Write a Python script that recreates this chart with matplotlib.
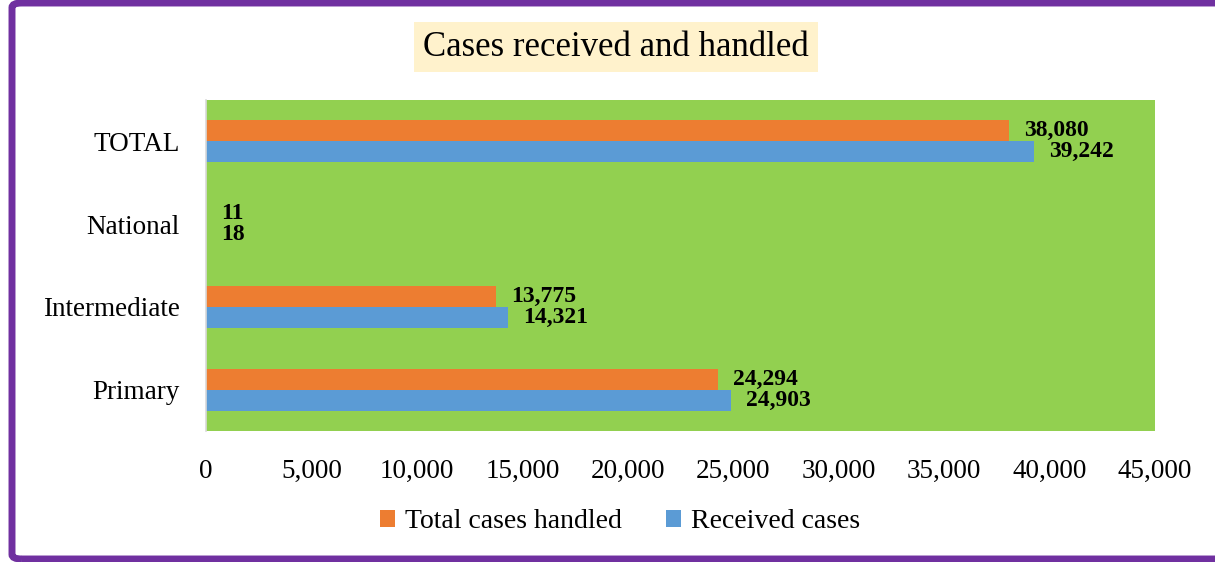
import matplotlib
matplotlib.use("Agg")
import matplotlib.pyplot as plt
from matplotlib.patches import FancyBboxPatch
from matplotlib.ticker import FuncFormatter
import numpy as np

categories = ["Primary", "Intermediate", "National", "TOTAL"]
handled = [24294, 13775, 11, 38080]
received = [24903, 14321, 18, 39242]
series_names = ["Total cases handled", "Received cases"]
xticks = [0, 5000, 10000, 15000, 20000, 25000, 30000, 35000, 40000, 45000]

FONT = "Liberation Serif"
plt.rcParams["font.family"] = [FONT, "DejaVu Serif"]

W, H = 1215, 562
fig = plt.figure(figsize=(W / 100, H / 100), dpi=100)
fig.patch.set_facecolor("white")

# purple border
border = FancyBboxPatch((12 / W, 3 / H), (W + 40) / W, (H - 6) / H,
                        boxstyle="round,pad=0,rounding_size=0.008",
                        transform=fig.transFigure, fill=False,
                        edgecolor="#7030A0", linewidth=5, clip_on=False)
fig.patches.append(border)

left, right = 206 / W, 1155 / W
bottom, top = 1 - 431 / H, 1 - 100 / H
ax = fig.add_axes([left, bottom, right - left, top - bottom])
ax.set_facecolor("#92D050")

y = np.arange(len(categories))
h = 0.255
orange = "#ED7D31"
blue = "#5B9BD5"
b1 = ax.barh(y + h / 2, handled, height=h, color=orange, label=series_names[0])
b2 = ax.barh(y - h / 2, received, height=h, color=blue, label=series_names[1])

for bars, vals in ((b1, handled), (b2, received)):
    for bar, v in zip(bars, vals):
        ax.annotate(f"{v:,}", (bar.get_width(), bar.get_y() + bar.get_height() / 2),
                    xytext=(15, 0), textcoords="offset pixels",
                    va="center", ha="left", fontsize=17, fontweight="bold",
                    color="black")

ax.set_xlim(0, 45000)
ax.set_ylim(-0.5, len(categories) - 0.5)
ax.set_xticks(xticks)
ax.xaxis.set_major_formatter(FuncFormatter(lambda v, p: f"{int(v):,}"))
ax.set_yticks(y)
ax.set_yticklabels(categories)
ax.tick_params(axis="both", length=0, labelsize=19.5)
ax.tick_params(axis="x", pad=20)
ax.tick_params(axis="y", pad=19)
for s in ("top", "right", "bottom"):
    ax.spines[s].set_visible(False)
ax.spines["left"].set_color("#D9D9D9")
ax.spines["left"].set_linewidth(1.2)

fig.text(616 / W, 1 - 47 / H, "Cases received and handled", ha="center", va="center",
         fontsize=25, color="black",
         bbox=dict(boxstyle="square,pad=0.25", facecolor="#FFF2CC", edgecolor="none"))

leg = fig.legend(handles=[b1, b2], labels=series_names, loc="center",
                 bbox_to_anchor=(620 / W, 1 - 522 / H), ncol=2, frameon=False,
                 fontsize=20, handlelength=0.55, handleheight=0.55, handletextpad=0.35,
                 columnspacing=1.6)

fig.savefig("out.png", dpi=100, facecolor="white")
